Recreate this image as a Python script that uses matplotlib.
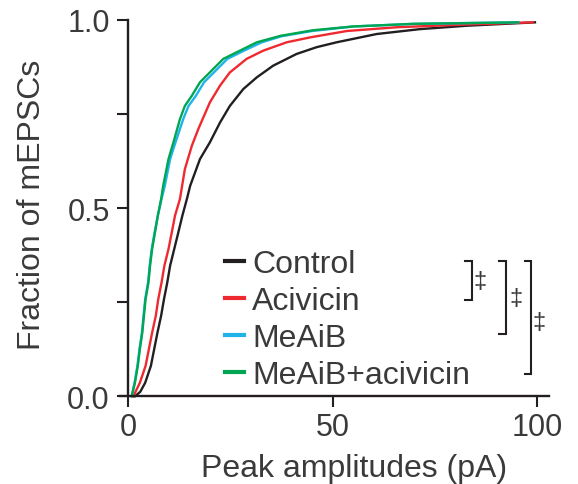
import matplotlib
matplotlib.use("Agg")
import matplotlib.pyplot as plt

plt.rcParams['font.family'] = ['Liberation Sans', 'DejaVu Sans']

# ---- data ----
labels = ["Control", "Acivicin", "MeAiB", "MeAiB+acivicin"]
colors = ["#231f20", "#ee2a30", "#1fb3ea", "#00a651"]

control_x = [1.7, 3.0, 4.2, 5.6, 6.4, 7.2, 8.1, 8.8, 9.6, 10.3, 11.3, 12.3, 13.3, 14.4, 15.2,
             17.6, 20.0, 22.5, 24.9, 28.2, 31.5, 35.5, 41.2, 46.1, 51.0, 60.8, 71.4, 82.8, 99.5]
control_y = [0.0, 0.012, 0.036, 0.081, 0.125, 0.169, 0.214, 0.258, 0.302, 0.347, 0.391, 0.435, 0.480, 0.524, 0.559,
             0.630, 0.674, 0.727, 0.771, 0.816, 0.847, 0.878, 0.909, 0.927, 0.940, 0.962, 0.975, 0.984, 0.993]

acivicin_x = [1.3, 2.9, 4.3, 5.1, 5.9, 6.8, 7.4, 8.2, 8.9, 9.9, 10.7, 11.5, 12.7, 13.9, 15.6,
              17.2, 20.0, 22.5, 24.9, 29.0, 33.1, 38.8, 44.5, 53.5, 65.7, 82.0, 99.0]
acivicin_y = [0.0, 0.036, 0.081, 0.125, 0.169, 0.214, 0.258, 0.302, 0.347, 0.391, 0.435, 0.480, 0.524, 0.603, 0.665,
              0.710, 0.780, 0.825, 0.860, 0.896, 0.918, 0.940, 0.953, 0.970, 0.980, 0.987, 0.993]

meaib_x = [0.9, 1.6, 2.3, 2.8, 3.4, 3.8, 4.2, 4.9, 5.3, 5.8, 6.5, 7.3, 8.2, 9.0, 10.3, 11.6,
           13.5, 14.8, 16.6, 18.6, 21.0, 24.3, 28.4, 32.7, 37.5, 45.0, 55.0, 70.0, 95.4]
meaib_y = [0.0, 0.036, 0.081, 0.125, 0.169, 0.214, 0.258, 0.302, 0.347, 0.391, 0.435, 0.480, 0.524, 0.559, 0.630, 0.674,
           0.736, 0.771, 0.798, 0.834, 0.860, 0.896, 0.918, 0.940, 0.956, 0.970, 0.982, 0.989, 0.993]

combo_x = [0.9, 1.7, 2.4, 2.9, 3.5, 3.9, 4.3, 5.0, 5.4, 5.9, 6.6, 7.3, 8.1, 8.6, 9.9, 11.1,
           12.7, 13.9, 15.6, 17.6, 20.0, 23.3, 27.4, 31.5, 37.2, 45.2, 55.0, 69.7, 95.4]
combo_y = [0.0, 0.036, 0.081, 0.125, 0.169, 0.214, 0.258, 0.302, 0.347, 0.391, 0.435, 0.480, 0.524, 0.559, 0.630, 0.674,
           0.736, 0.771, 0.798, 0.834, 0.860, 0.896, 0.918, 0.940, 0.957, 0.972, 0.982, 0.989, 0.993]

series_x = [control_x, acivicin_x, meaib_x, combo_x]
series_y = [control_y, acivicin_y, meaib_y, combo_y]

x_ticks = [0, 50, 100]
x_ticklabels = ["0", "50", "100"]
y_ticks = [0, 0.25, 0.5, 0.75, 1.0]
y_ticklabels = ["0.0", "", "0.5", "", "1.0"]

# significance brackets: (top y, bottom y, x of vertical, x of ends)
brackets = [(0.359, 0.255, 84.1, 82.4), (0.359, 0.165, 92.4, 90.7), (0.359, 0.058, 98.5, 97.1)]
sig_pos = [(86.0, 0.306), (94.8, 0.262), (100.6, 0.198)]

# ---- figure ----
axis_col = "#231f20"
text_col = "#3a3a3a"
FS_TICK = 22
FS = 23

fig = plt.figure(figsize=(5.78, 4.85), dpi=100)
ax = fig.add_axes([0.2073, 0.1808, 0.7430, 0.7765])

for xs, ys, c, lab in zip(series_x, series_y, colors, labels):
    ax.plot(xs, ys, color=c, lw=1.7, label=lab, clip_on=False, solid_joinstyle='miter')

ax.set_xlim(-2, 103)
ax.set_ylim(0, 1.0)
for s in ["top", "right"]:
    ax.spines[s].set_visible(False)
ax.spines["left"].set_position(("data", 0))
ax.spines["left"].set_bounds(0, 1.0)
for s in ["left", "bottom"]:
    ax.spines[s].set_linewidth(1.7)
    ax.spines[s].set_color(axis_col)

ax.set_xticks(x_ticks)
ax.set_xticklabels(x_ticklabels)
ax.set_yticks(y_ticks)
ax.set_yticklabels(y_ticklabels)
ax.tick_params(axis="both", direction="out", length=8.2, width=1.5, color=axis_col,
               labelsize=FS_TICK, labelcolor=text_col)
ax.tick_params(axis="y", pad=5)
ax.tick_params(axis="x", pad=3)

ax.set_xlabel("Peak amplitudes (pA)", fontsize=FS, color=text_col, va="center")
ax.xaxis.set_label_coords(0.545, -0.190)
ax.set_ylabel("Fraction of mEPSCs", fontsize=FS, color=text_col, va="center")
ax.yaxis.set_label_coords(-0.204, 0.512)

leg = ax.legend(loc="upper left", bbox_to_anchor=(0.245, 0.392), frameon=False,
                fontsize=FS, handlelength=0.6, handletextpad=0.25, labelspacing=0.22,
                borderpad=0, borderaxespad=0)
for t in leg.get_texts():
    t.set_color(text_col)
for h in leg.legend_handles:
    h.set_linewidth(3.0)

for (yt, yb, xv, xe) in brackets:
    ax.plot([xe, xv, xv, xe], [yt, yt, yb, yb], color=axis_col, lw=1.5, clip_on=False,
            solid_joinstyle="miter")
for (xs_, ys_) in sig_pos:
    ax.text(xs_, ys_, "\u2021", fontsize=17, color=text_col, ha="center", va="center")

fig.savefig("out.png", dpi=100)
